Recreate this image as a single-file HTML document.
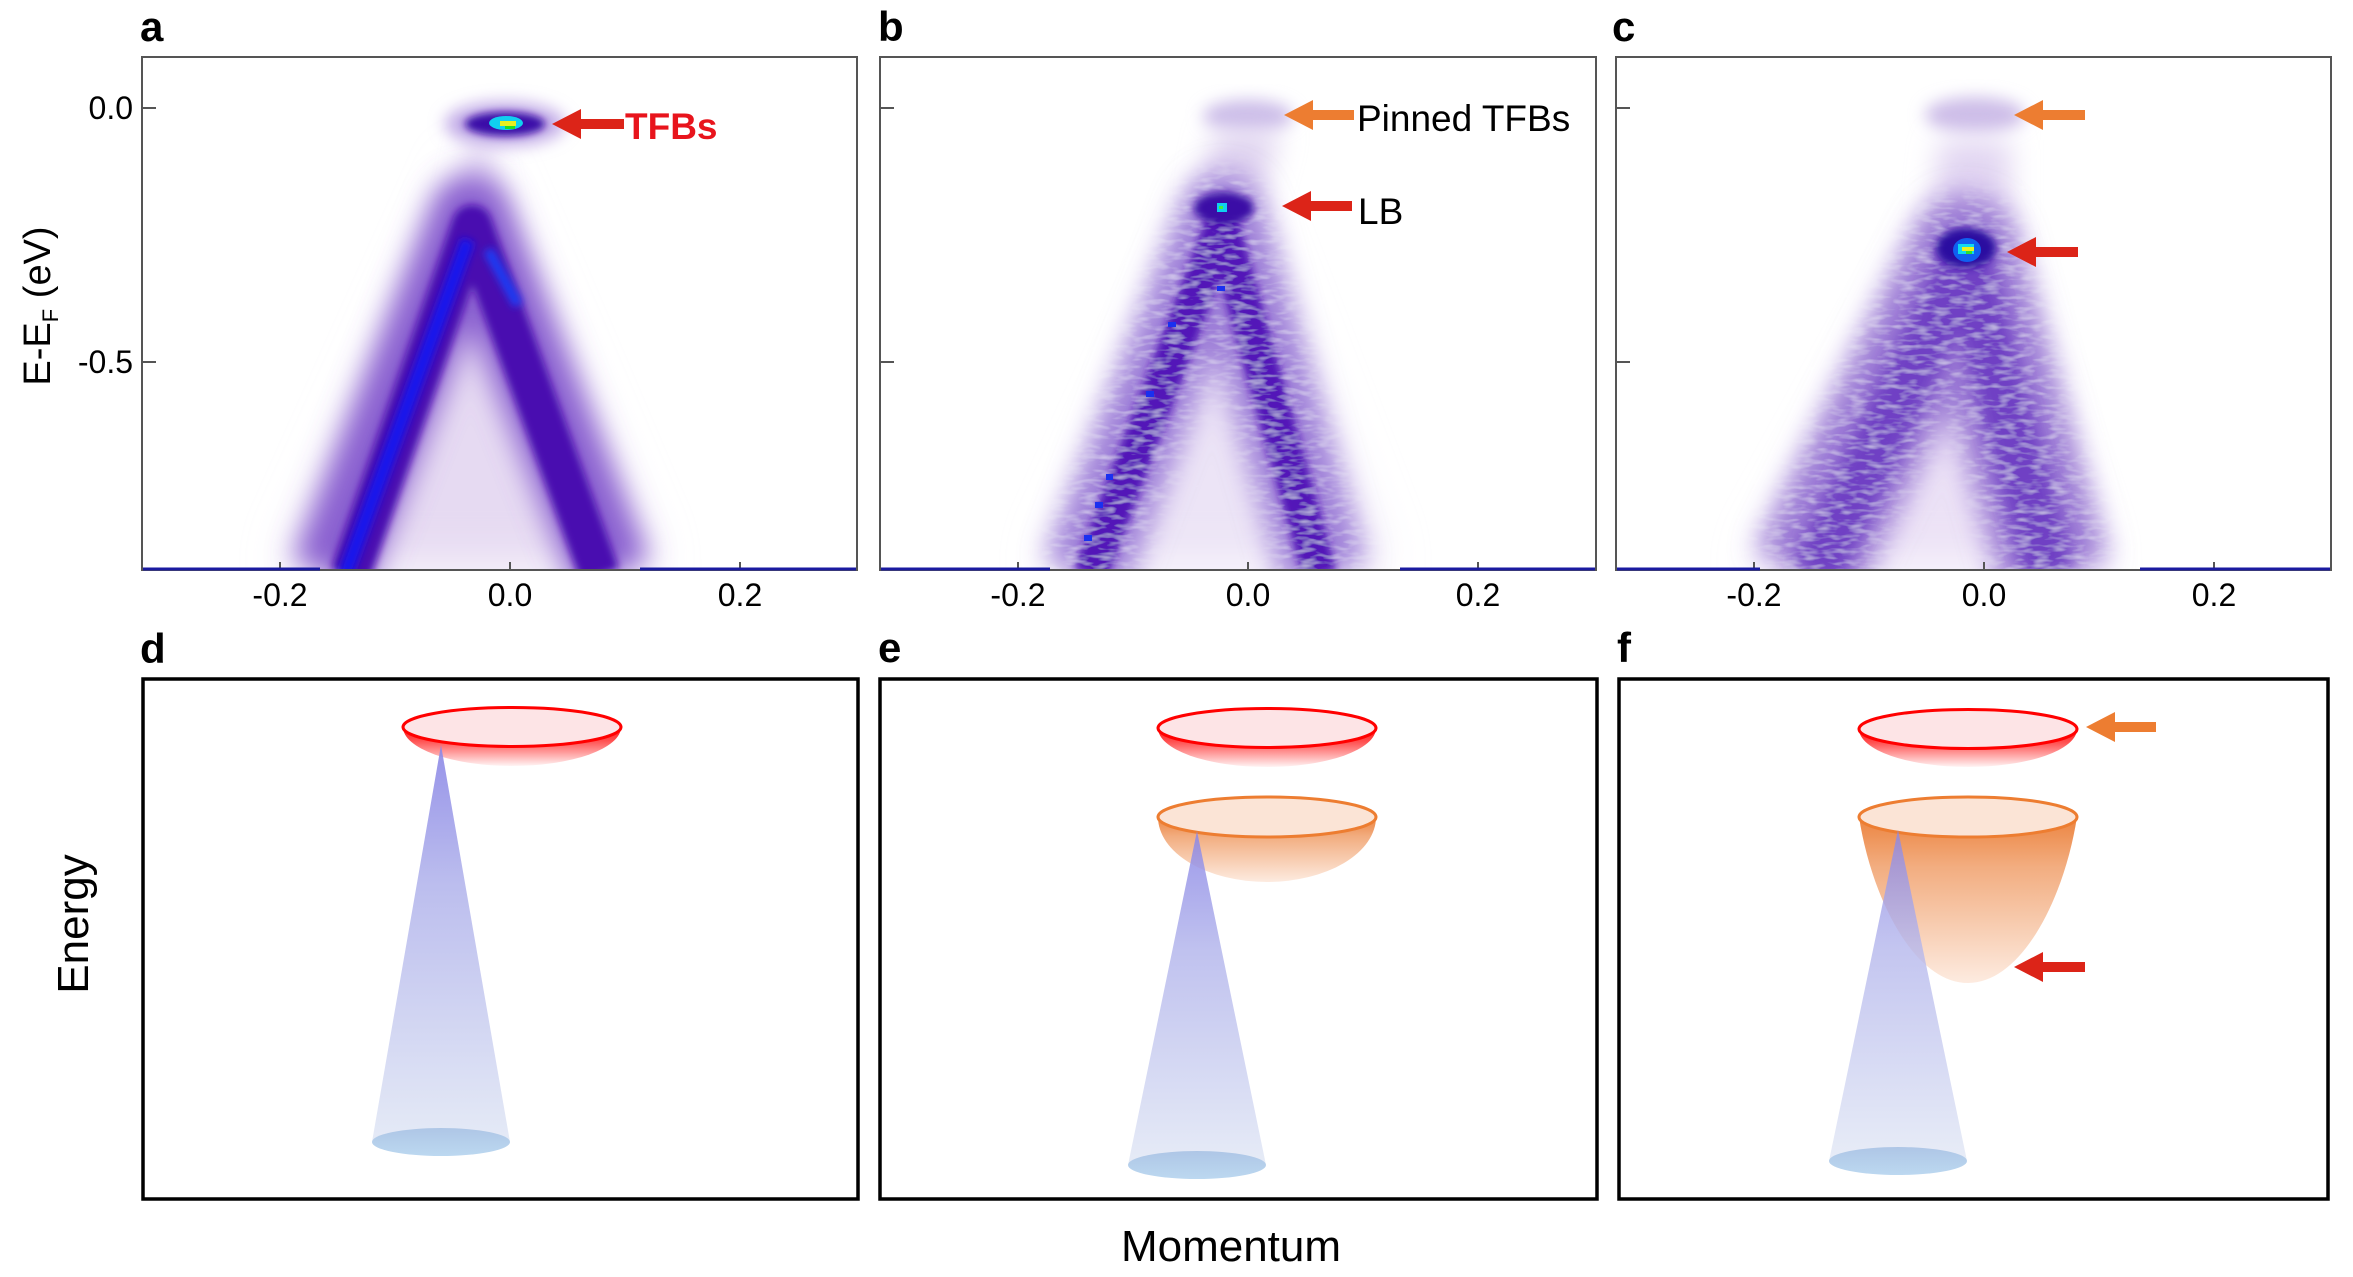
<!DOCTYPE html>
<html><head><meta charset="utf-8"><style>
html,body{margin:0;padding:0;background:#fff;}
svg{display:block;font-family:"Liberation Sans",Arial,sans-serif;}
</style></head><body>
<svg width="2353" height="1277" viewBox="0 0 2353 1277" xmlns="http://www.w3.org/2000/svg">
<defs>
<filter id="b4" x="-50%" y="-50%" width="200%" height="200%"><feGaussianBlur stdDeviation="4"/></filter>
<filter id="b8" x="-50%" y="-50%" width="200%" height="200%"><feGaussianBlur stdDeviation="8"/></filter>
<filter id="b14" x="-50%" y="-50%" width="200%" height="200%"><feGaussianBlur stdDeviation="14"/></filter>
<filter id="b25" x="-50%" y="-50%" width="200%" height="200%"><feGaussianBlur stdDeviation="25"/></filter>
<filter id="noise" filterUnits="userSpaceOnUse" x="0" y="0" width="2353" height="600">
<feTurbulence type="fractalNoise" baseFrequency="0.06 0.2" numOctaves="2" seed="3" result="n"/>
<feColorMatrix in="n" type="matrix" values="0 0 0 0 1  0 0 0 0 1  0 0 0 0 1  0 0 0 0.9 -0.4" result="w"/>
<feComposite in="w" in2="SourceGraphic" operator="in" result="wc"/>
<feMerge><feMergeNode in="SourceGraphic"/><feMergeNode in="wc"/></feMerge>
</filter>
<clipPath id="ca"><rect x="142" y="57" width="715" height="513"/></clipPath>
<clipPath id="cb"><rect x="880" y="57" width="716" height="513"/></clipPath>
<clipPath id="cc"><rect x="1616" y="57" width="715" height="513"/></clipPath>
<linearGradient id="gRed" x1="0" y1="0" x2="0" y2="1"><stop offset="0" stop-color="#ff1010"/><stop offset="0.35" stop-color="#ff5050"/><stop offset="1" stop-color="#fff4f4"/></linearGradient>
<linearGradient id="gOr" x1="0" y1="0" x2="0" y2="1"><stop offset="0" stop-color="#ec8440"/><stop offset="0.3" stop-color="#f2ad80"/><stop offset="1" stop-color="#fdebe0"/></linearGradient>
<linearGradient id="gCone" x1="0" y1="0" x2="0" y2="1"><stop offset="0" stop-color="#8a86e6"/><stop offset="0.35" stop-color="#b4b6ec"/><stop offset="1" stop-color="#e2e8f5"/></linearGradient>
<linearGradient id="gBase" x1="0" y1="0" x2="0" y2="1"><stop offset="0" stop-color="#aec6e6"/><stop offset="1" stop-color="#bcd8f0"/></linearGradient>
</defs>

<g font-weight="bold" font-size="42" fill="#000">
<text x="140" y="41">a</text><text x="878" y="41">b</text><text x="1612" y="41">c</text>
<text x="140" y="663">d</text><text x="878" y="662">e</text><text x="1617" y="662">f</text>
</g>

<!-- Panel a -->
<g clip-path="url(#ca)">
<polygon points="475,160 290,571 650,571" fill="#e6daf2" filter="url(#b25)"/>
<polygon points="478,120 440,300 520,300" fill="#d8c8ee" filter="url(#b14)"/>
<polyline points="330,575 470,215 612,575" fill="none" stroke="#8a60d0" stroke-width="80" filter="url(#b14)" stroke-linejoin="round"/>
<polyline points="350,575 472,225 600,575" fill="none" stroke="#4a0cb0" stroke-width="40" filter="url(#b4)" stroke-linejoin="round"/>
<line x1="345" y1="575" x2="468" y2="240" stroke="#1414ee" stroke-width="14" filter="url(#b4)"/>
<line x1="488" y1="250" x2="518" y2="305" stroke="#1a40f8" stroke-width="10" filter="url(#b4)"/>
<ellipse cx="505" cy="124" rx="60" ry="22" fill="#c0a8e6" filter="url(#b8)"/>
<ellipse cx="505" cy="124" rx="40" ry="12" fill="#3a0aa8" filter="url(#b4)"/>
<ellipse cx="506" cy="123" rx="17" ry="7" fill="#10d0f0"/>
<rect x="500" y="121" width="16" height="5" fill="#e8f020"/>
<rect x="505" y="126" width="10" height="3" fill="#20e020"/>
</g>

<!-- Panel b -->
<g clip-path="url(#cb)">
<polygon points="1230,180 1050,571 1380,571" fill="#ece4f6" filter="url(#b25)"/>
<ellipse cx="1248" cy="116" rx="45" ry="16" fill="#cbbce8" filter="url(#b8)"/>
<polygon points="1215,130 1280,130 1260,200 1200,200" fill="#e0d4f0" filter="url(#b14)"/>
<g filter="url(#noise)">
<polyline points="1085,575 1222,215 1325,575" fill="none" stroke="#9d7ed8" stroke-width="85" filter="url(#b14)" stroke-linejoin="round"/>
<polyline points="1090,575 1222,225 1320,575" fill="none" stroke="#5218b8" stroke-width="34" filter="url(#b4)" stroke-linejoin="round"/>
</g>
<ellipse cx="1224" cy="208" rx="30" ry="16" fill="#3a0ca6" filter="url(#b4)"/>
<rect x="1217" y="203" width="10" height="9" fill="#10d0f0"/>
<rect x="1219" y="206" width="4" height="3" fill="#40f040"/>
<g fill="#1a30f0"><rect x="1084" y="535" width="8" height="6"/><rect x="1095" y="502" width="8" height="6"/><rect x="1106" y="474" width="7" height="6"/><rect x="1146" y="391" width="8" height="6"/><rect x="1168" y="322" width="8" height="5"/><rect x="1217" y="286" width="8" height="5"/></g>
</g>

<!-- Panel c -->
<g clip-path="url(#cc)">
<polygon points="1965,200 1760,571 2090,571" fill="#ece2f6" filter="url(#b25)"/>
<ellipse cx="1975" cy="115" rx="50" ry="18" fill="#cdbde8" filter="url(#b8)"/>
<polygon points="1940,140 2010,140 2010,230 1930,230" fill="#e2d6f2" filter="url(#b14)"/>
<g filter="url(#noise)">
<polyline points="1805,575 1965,250 2055,575" fill="none" stroke="#9a78d4" stroke-width="110" filter="url(#b14)" stroke-linejoin="round"/>
<polyline points="1815,575 1965,260 2050,575" fill="none" stroke="#7040c4" stroke-width="50" filter="url(#b8)" stroke-linejoin="round"/>
</g>
<ellipse cx="1966" cy="248" rx="30" ry="20" fill="#2a0ca0" filter="url(#b4)"/>
<ellipse cx="1967" cy="250" rx="14" ry="12" fill="#1060f0"/>
<rect x="1958" y="244" width="16" height="10" fill="#10d8f0"/>
<rect x="1962" y="247" width="12" height="4" fill="#e8f020"/>
<rect x="1966" y="251" width="6" height="3" fill="#30e030"/>
</g>

<g fill="none" stroke="#555" stroke-width="2">
<rect x="142" y="57" width="715" height="513"/>
<rect x="880" y="57" width="716" height="513"/>
<rect x="1616" y="57" width="715" height="513"/>
<path d="M142 108h14M142 362h14M880 108h14M880 362h14M1616 108h14M1616 362h14"/>
<path d="M280 570v-8M510 570v-8M740 570v-8M1018 570v-8M1248 570v-8M1478 570v-8M1754 570v-8M1984 570v-8M2214 570v-8"/>
</g>
<g stroke="#1a1aa0" stroke-width="3">
<line x1="143" y1="569" x2="320" y2="569"/><line x1="640" y1="569" x2="856" y2="569"/>
<line x1="881" y1="569" x2="1050" y2="569"/><line x1="1400" y1="569" x2="1595" y2="569"/>
<line x1="1617" y1="569" x2="1760" y2="569"/><line x1="2140" y1="569" x2="2330" y2="569"/>
</g>

<g font-size="32" fill="#000" text-anchor="middle">
<text x="280" y="606">-0.2</text><text x="510" y="606">0.0</text><text x="740" y="606">0.2</text>
<text x="1018" y="606">-0.2</text><text x="1248" y="606">0.0</text><text x="1478" y="606">0.2</text>
<text x="1754" y="606">-0.2</text><text x="1984" y="606">0.0</text><text x="2214" y="606">0.2</text>
</g>
<g font-size="32" fill="#000" text-anchor="end">
<text x="133" y="119">0.0</text><text x="133" y="373">-0.5</text>
</g>
<text transform="translate(50,306) rotate(-90)" font-size="38" text-anchor="middle" fill="#000">E-E<tspan font-size="22" dy="8">F</tspan><tspan dy="-8"> (eV)</tspan></text>

<g fill="#dc2418">
<polygon points="552,124 581,109 581,139"/><rect x="580" y="119" width="44" height="10"/>
<polygon points="1282,206 1311,191 1311,221"/><rect x="1310" y="201" width="42" height="10"/>
<polygon points="2007,252 2036,237 2036,267"/><rect x="2035" y="247" width="43" height="10"/>
</g>
<g fill="#ed7d31">
<polygon points="1284,115 1313,100 1313,130"/><rect x="1312" y="110" width="42" height="10"/>
<polygon points="2014,115 2043,100 2043,130"/><rect x="2042" y="110" width="43" height="10"/>
</g>
<text x="625" y="139" font-size="37" font-weight="bold" fill="#e8141c">TFBs</text>
<text x="1357" y="131" font-size="37" fill="#000">Pinned TFBs</text>
<text x="1358" y="224" font-size="37" fill="#000">LB</text>

<g fill="none" stroke="#000" stroke-width="3.5">
<rect x="143" y="679" width="715" height="520"/>
<rect x="880" y="679" width="717" height="520"/>
<rect x="1619" y="679" width="709" height="520"/>
</g>

<path d="M403 727 A109 39 0 0 0 621 727 Z" fill="url(#gRed)"/>
<ellipse cx="512" cy="727" rx="109" ry="19.5" fill="#fde4e6" stroke="#f00" stroke-width="3"/>
<polygon points="441,745 372,1142 510,1142" fill="url(#gCone)" opacity="0.9"/>
<ellipse cx="441" cy="1142" rx="69" ry="14" fill="url(#gBase)"/>

<path d="M1158 728 A109 39 0 0 0 1376 728 Z" fill="url(#gRed)"/>
<ellipse cx="1267" cy="728" rx="109" ry="19.5" fill="#fde4e6" stroke="#f00" stroke-width="3"/>
<path d="M1158 817 A109 65 0 0 0 1376 817 Z" fill="url(#gOr)"/>
<ellipse cx="1267" cy="817" rx="109" ry="20" fill="#fbe4d6" stroke="#ed7d31" stroke-width="3"/>
<polygon points="1197,831 1128,1165 1266,1165" fill="url(#gCone)" opacity="0.85"/>
<ellipse cx="1197" cy="1165" rx="69" ry="14" fill="url(#gBase)"/>

<path d="M1859 729 A109 38 0 0 0 2077 729 Z" fill="url(#gRed)"/>
<ellipse cx="1968" cy="729" rx="109" ry="19.5" fill="#fde4e6" stroke="#f00" stroke-width="3"/>
<path d="M1859 817 C1872 900 1915 983 1968 983 C2021 983 2064 900 2077 817 Z" fill="url(#gOr)"/>
<ellipse cx="1968" cy="817" rx="109" ry="20" fill="#fbe4d6" stroke="#ed7d31" stroke-width="3"/>
<polygon points="1898,830 1829,1161 1967,1161" fill="url(#gCone)" opacity="0.8"/>
<ellipse cx="1898" cy="1161" rx="69" ry="14" fill="url(#gBase)"/>
<polygon points="2086,727 2115,712 2115,742" fill="#ed7d31"/><rect x="2114" y="722" width="42" height="10" fill="#ed7d31"/>
<polygon points="2014,967 2043,952 2043,982" fill="#dc2418"/><rect x="2042" y="962" width="43" height="10" fill="#dc2418"/>

<text transform="translate(88,924) rotate(-90)" font-size="44" text-anchor="middle" fill="#000">Energy</text>
<text x="1231" y="1261" font-size="44" text-anchor="middle" fill="#000">Momentum</text>
</svg>
</body></html>
